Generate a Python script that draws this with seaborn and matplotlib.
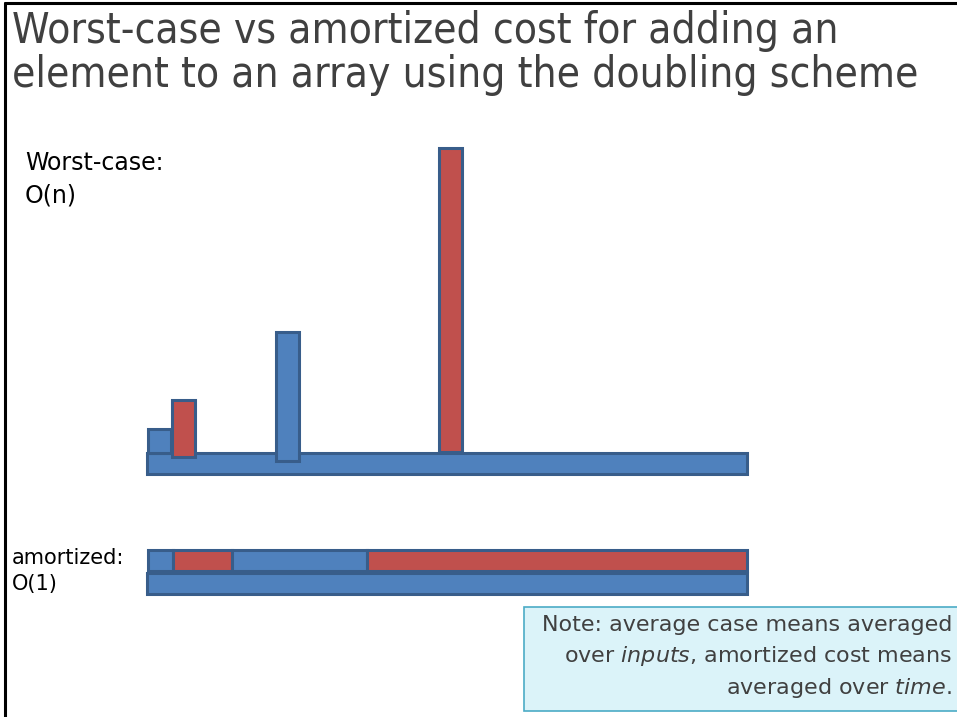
import numpy as np
import matplotlib
matplotlib.use("Agg")
import matplotlib.pyplot as plt
import seaborn as sns
from matplotlib.patches import Rectangle
from matplotlib.lines import Line2D

# slide text
title_lines = ["Worst-case vs amortized cost for adding an",
               "element to an array using the doubling scheme"]
worst_label = "Worst-case:\nO(n)"
amort_label = "amortized:\nO(1)"
note_lines = ["Note: average case means averaged",
              r"over $\it{inputs}$, amortized cost means",
              r"averaged over $\it{time}$."]

# worst-case row: one slot per element, spikes where the copy happens
n_slots = 25
spike_left = [0.04, 1.04, 5.38, 12.17]
spike_bottom = [0.0, -0.17, -0.33, 0.04]
spike_top = [1.0, 2.2, 5.05, 12.7]
spike_phase = [0, 1, 0, 1]

# amortized row: the same spikes spread out flat
segment_widths = [1.04, 2.46, 5.62, 15.83]
segment_phase = [0, 1, 0, 1]

sns.set_theme(style="white")
plt.rcParams['font.family'] = ['DejaVu Sans']
palette = sns.color_palette(["#4F81BD", "#C0504D"])
edge = "#385D8A"

W, H = 957, 717
fig = plt.figure(figsize=(W / 100, H / 100), dpi=100)


def fx(px):
    return px / W


def fy(py):
    return 1 - py / H


# slide border (top and left only)
fig.add_artist(Line2D([fx(5), 1], [fy(3), fy(3)], color="black", lw=2.2))
fig.add_artist(Line2D([fx(5), fx(5)], [0, fy(3)], color="black", lw=2.2))

# title
for i, line in enumerate(title_lines):
    fig.text(fx(12), fy(43 + 44 * i), line, fontsize=30.4, color="#404040",
             va="baseline", ha="left", fontstretch="condensed")

# worst-case panel
ax_w = fig.add_axes([fx(147), fy(480), fx(600), 340 / H])
ax_w.set_xlim(0, n_slots)
ax_w.set_ylim(-1.125, 13.04)
ax_w.barh([-0.4375], [n_slots], height=0.875, left=0, color=palette[0],
          edgecolor=edge, linewidth=2.2, clip_on=False, zorder=1)
heights = np.array(spike_top) - np.array(spike_bottom)
ax_w.bar(spike_left, heights, width=0.96, bottom=spike_bottom, align="edge",
         color=[palette[p] for p in spike_phase], edgecolor=edge,
         linewidth=2.2, clip_on=False, zorder=2)
ax_w.axis("off")

fig.text(fx(25), fy(203), worst_label, fontsize=17, color="black",
         va="baseline", ha="left", linespacing=1.5)

# amortized panel
ax_a = fig.add_axes([fx(147), fy(600), fx(600), 60 / H])
ax_a.set_xlim(0, n_slots)
ax_a.set_ylim(-0.717, 1.891)
ax_a.barh([0], [n_slots], height=0.91, left=0, color=palette[0],
          edgecolor=edge, linewidth=2.2, clip_on=False)
lefts = 0.04 + np.concatenate([[0], np.cumsum(segment_widths)[:-1]])
ax_a.barh([1] * len(segment_widths), segment_widths, height=0.91, left=lefts,
          color=[palette[p] for p in segment_phase], edgecolor=edge,
          linewidth=2.2, clip_on=False)
ax_a.axis("off")

fig.text(fx(12), fy(590), amort_label, fontsize=15, color="black",
         va="baseline", ha="left", linespacing=1.35)

# note box
fig.add_artist(Rectangle((fx(524), fy(711)), fx(440), 104 / H,
                         transform=fig.transFigure, facecolor="#DBF3F9",
                         edgecolor="#4BACC6", linewidth=1.2))
for i, line in enumerate(note_lines):
    fig.text(fx(952), fy(631 + 31.5 * i), line, fontsize=16,
             color="#404040", va="baseline", ha="right")

fig.savefig("out.png", dpi=100)
